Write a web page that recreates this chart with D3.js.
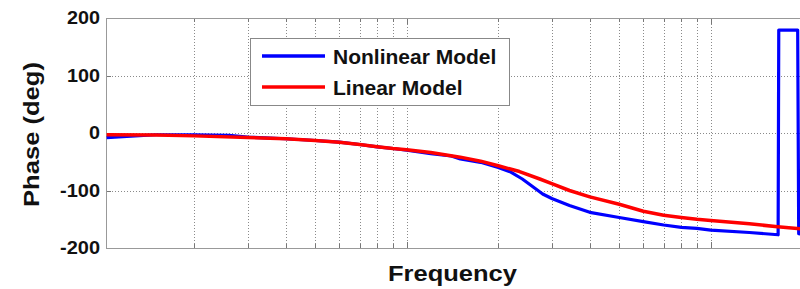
<!DOCTYPE html>
<html><head><meta charset="utf-8">
<script src="https://cdn.jsdelivr.net/npm/d3@7"></script>
<style>
body{margin:0;background:#fff}
svg{display:block}
text{font-family:"Liberation Sans",Arial,Helvetica,sans-serif;font-weight:bold;fill:#111}
</style>
</head><body>
<svg id="c" width="800" height="289"></svg>
<script>
// ---- data ----
const freqNonlinear  = [1.03,1.2,1.5,2,2.6,3,4,5,6,7,8,9,10,12,14,15,17.5,20,22,24,26.4,28,30,34.3,40,50,60,70,80,90,100,134,166.6,167.4,193.2,194.7,200];
const phaseNonlinear = [-8,-6,-3,-3,-4,-7,-10,-13,-16,-20,-24,-27,-30,-36,-40,-45,-51,-60,-68,-80,-96,-106,-114,-126,-138,-147,-154,-160,-164,-166,-169,-173,-177,179,179,-175,-176];
const freqLinear  = [1.03,1.5,2,3,4,5,6,7,8,9,10,12,15,17.5,20,23.5,27.4,30,34.3,40,50,60,70,80,90,100,134,166,200];
const phaseLinear = [-3,-3.5,-5,-8,-10,-13,-16,-20,-24,-27,-29,-34,-42,-49,-57,-67,-80,-88,-100,-111,-124,-136,-143,-147,-150,-152,-158,-163,-167];
const yTicks = [-200,-100,0,100,200];
const xGridTicks = [2,3,4,5,6,7,8,9,10,20,30,40,50,60,70,80,90,100];
const seriesNames = ["Nonlinear Model","Linear Model"];
const seriesColors = ["#0000ff","#ff0000"];

// ---- layout ----
const L = 106, T = 18, B = 248;
const x = d3.scaleLog().domain([1.025, 200]).range([L, L + Math.log10(200/1.025)*304]);
const y = d3.scaleLinear().domain([-200, 200]).range([B, T]);
const R = x.range()[1];
const svg = d3.select("#c");

svg.append("defs").append("clipPath").attr("id","clip")
  .append("rect").attr("x",L).attr("y",T).attr("width",R-L).attr("height",B-T);

// grid
const grid = svg.append("g");
grid.selectAll(".vg").data(xGridTicks).enter().append("line")
  .attr("x1",d=>Math.round(x(d))+0.5).attr("x2",d=>Math.round(x(d))+0.5)
  .attr("y1",T).attr("y2",B)
  .attr("stroke","#8a8a8a").attr("stroke-width",1).attr("stroke-dasharray","1,2");
grid.selectAll(".hg").data([-100,0,100]).enter().append("line")
  .attr("x1",L).attr("x2",R)
  .attr("y1",d=>Math.round(y(d))+0.5).attr("y2",d=>Math.round(y(d))+0.5)
  .attr("stroke","#8a8a8a").attr("stroke-width",1).attr("stroke-dasharray","1,2");

// ticks (inward, bottom and top)
const tk = svg.append("g");
tk.selectAll(".bt").data(xGridTicks).enter().append("line")
  .attr("x1",d=>Math.round(x(d))+0.5).attr("x2",d=>Math.round(x(d))+0.5)
  .attr("y1",B).attr("y2",d=>B-([10,100].includes(d)?6:4))
  .attr("stroke","#777");
tk.selectAll(".tt").data(xGridTicks).enter().append("line")
  .attr("x1",d=>Math.round(x(d))+0.5).attr("x2",d=>Math.round(x(d))+0.5)
  .attr("y1",T).attr("y2",d=>T+([10,100].includes(d)?6:4))
  .attr("stroke","#777");
tk.selectAll(".lt").data(yTicks).enter().append("line")
  .attr("x1",L).attr("x2",L+5)
  .attr("y1",d=>Math.round(y(d))+0.5).attr("y2",d=>Math.round(y(d))+0.5)
  .attr("stroke","#777");

// box
svg.append("rect").attr("x",L+0.5).attr("y",T+0.5).attr("width",R-L).attr("height",B-T)
  .attr("fill","none").attr("stroke","#999").attr("stroke-width",1);

// y tick labels
svg.append("g").selectAll("text").data(yTicks).enter().append("text")
  .attr("x",100).attr("y",d=>y(d)).attr("dy","0.36em")
  .attr("text-anchor","end").attr("font-size",18)
  .attr("textLength",d=>String(d).length===4?40:(String(d).length===3?33:11))
  .attr("lengthAdjust","spacingAndGlyphs")
  .text(d=>d);

// lines
const line = d3.line().x(d=>x(d[0])).y(d=>y(d[1]));
const lg = svg.append("g").attr("clip-path","url(#clip)");
lg.append("path").datum(d3.zip(freqNonlinear, phaseNonlinear))
  .attr("d",line).attr("fill","none").attr("stroke",seriesColors[0]).attr("stroke-width",3.2)
  .attr("stroke-linejoin","round");
lg.append("path").datum(d3.zip(freqLinear, phaseLinear))
  .attr("d",line).attr("fill","none").attr("stroke",seriesColors[1]).attr("stroke-width",3.5)
  .attr("stroke-linejoin","round");

// legend
const leg = svg.append("g");
leg.append("rect").attr("x",250.5).attr("y",38.5).attr("width",259).attr("height",67)
  .attr("fill","#fff").attr("stroke","#888").attr("stroke-width",1);
seriesNames.forEach((n,i)=>{
  const yy = 56 + i*31;
  leg.append("line").attr("x1",262).attr("x2",325).attr("y1",yy).attr("y2",yy)
    .attr("stroke",seriesColors[i]).attr("stroke-width",3.5);
  leg.append("text").attr("x",333).attr("y",yy).attr("dy","0.36em")
    .attr("font-size",21).text(n);
});

// axis titles
svg.append("text").attr("x",388).attr("y",281)
  .attr("font-size",22).attr("textLength",129).attr("lengthAdjust","spacingAndGlyphs").text("Frequency");
svg.append("text").attr("transform","translate(39,207) rotate(-90)")
  .attr("font-size",22).attr("textLength",145).attr("lengthAdjust","spacingAndGlyphs").text("Phase (deg)");
</script>
</body></html>
